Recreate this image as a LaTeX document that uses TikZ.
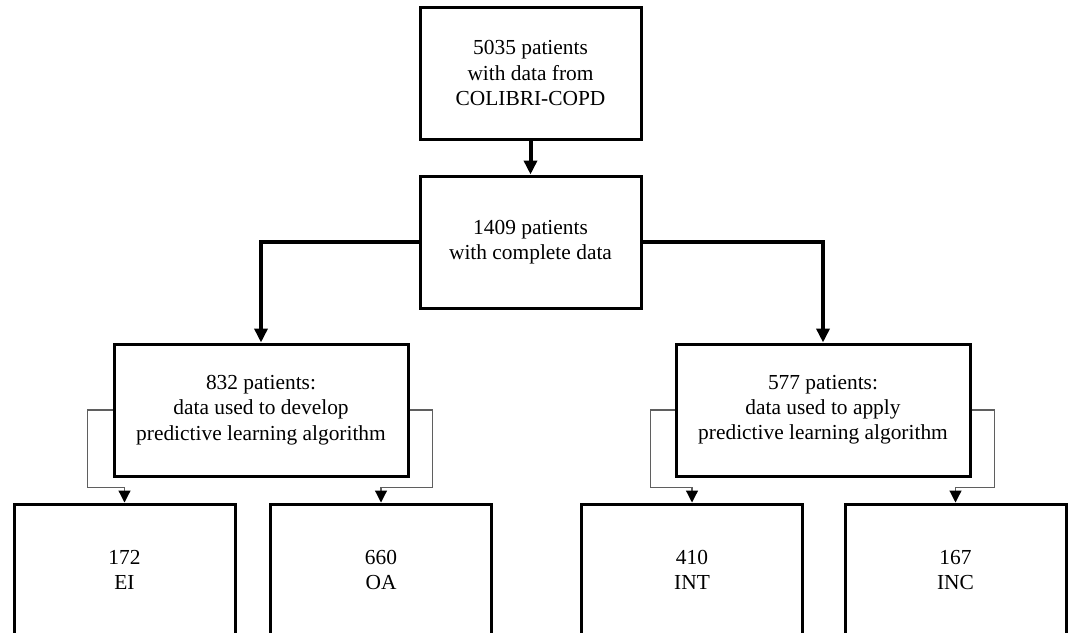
\documentclass[tikz,border=0pt]{standalone}
\usepackage{fontspec}
\setmainfont{Liberation Serif}
\usepackage{tikz}
\usetikzlibrary{
  arrows.meta,
  calc,
  positioning,
}
\definecolor{linegray}{RGB}{95,95,95}
\tikzstyle{box} = [
  rectangle,
  draw,
  line width=1.5pt,
  minimum width=110.5pt,
  minimum height=66pt,
  align=center,
  font=\fontsize{10.7}{12.6}\selectfont,
]
\tikzstyle{widebox} = [
  box,
  minimum width=147pt,
]
\tikzstyle{mainarrow} = [
  -{Triangle[width=6.5pt,length=7pt]},
  line width=2pt,
]
\tikzstyle{subarrow} = [
  -{Triangle[width=6pt,length=6pt,black]},
  line width=0.6pt,
  draw=linegray,
]

\begin{document}
\begin{tikzpicture}[x=0.5pt,y=-0.5pt]
			\useasboundingbox (0,0) rectangle (1069,632);

			\node[box] (colibri) at (530.5,73) {5035 patients\\with data from\\COLIBRI-COPD};
			\node[box] (complete) [below=17pt of colibri] {1409 patients\\with complete data};

			\node[widebox] (develop) at (261,410) {832 patients:\\data used to develop\\predictive learning algorithm};
			\node[widebox] (apply) at (823,410) {577 patients:\\data used to apply\\predictive learning algorithm};

			\node[box] (ei) at (124.5,570) {172\\EI};
			\node[box] (oa) at (381,570) {660\\OA};
			\node[box] (int) at (692,570) {410\\INT};
			\node[box] (inc) at (955.5,570) {167\\INC};

			\draw[mainarrow] (colibri) -- (complete);
			\draw[mainarrow] (complete.west) -| (develop.north);
			\draw[mainarrow] (complete.east) -| (apply.north);

			\draw[subarrow] (develop.west) -- ++(-25,0) |- ($(ei.north)+(0,-15)$) -- (ei.north);
			\draw[subarrow] (develop.east) -- ++(23,0) |- ($(oa.north)+(0,-15)$) -- (oa.north);
			\draw[subarrow] (apply.west) -- ++(-24,0) |- ($(int.north)+(0,-15)$) -- (int.north);
			\draw[subarrow] (apply.east) -- ++(23,0) |- ($(inc.north)+(0,-15)$) -- (inc.north);
		\end{tikzpicture}
\end{document}
